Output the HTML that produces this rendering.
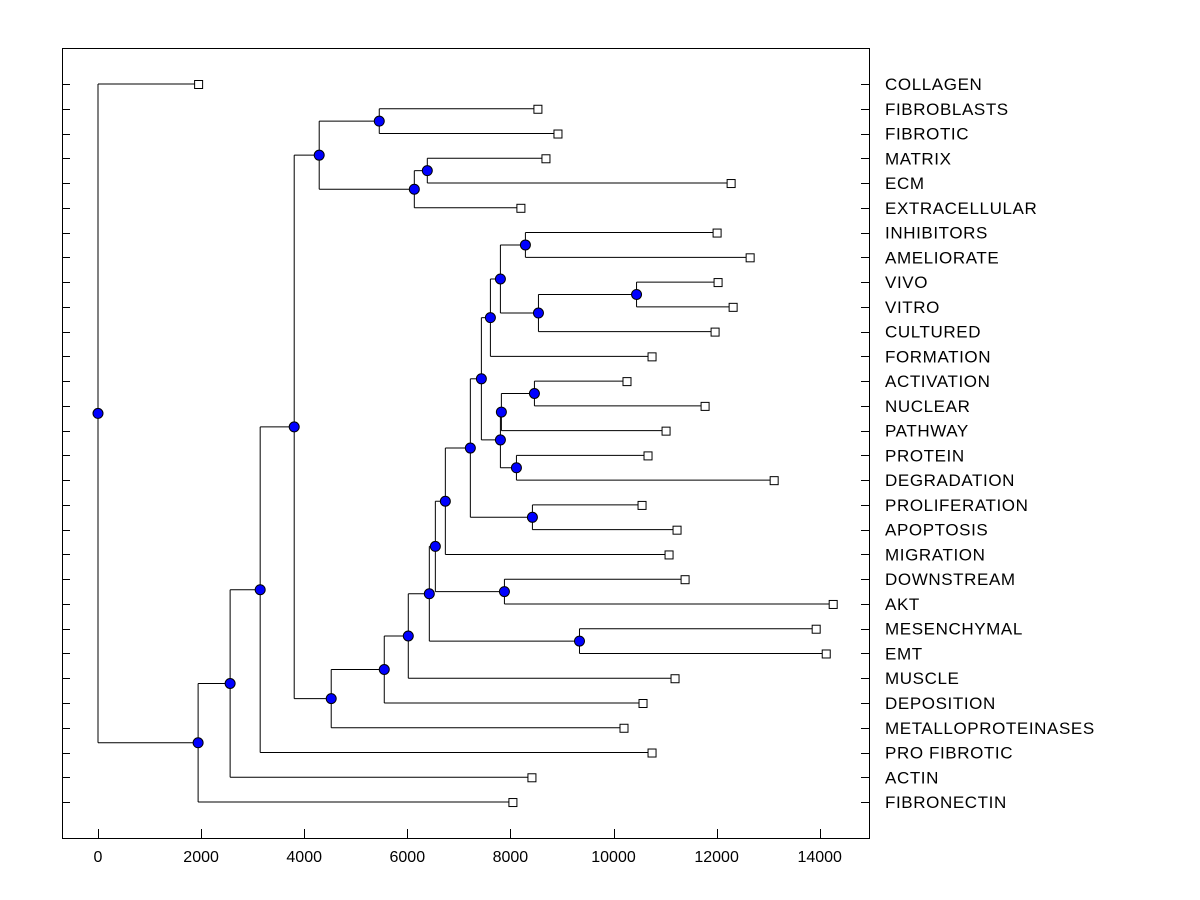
<!DOCTYPE html>
<html><head><meta charset="utf-8"><style>
html,body{margin:0;padding:0;background:#fff;}
svg{display:block;font-family:"Liberation Sans",Arial,sans-serif;}
</style></head><body>
<svg id="chart" width="1200" height="900" viewBox="0 0 1200 900">
<rect x="62.5" y="48.5" width="807" height="790" fill="none" stroke="#000" stroke-width="1"/>
<g id="axes"></g><g id="links"></g><g id="marks"></g>
</svg>
<script>
const leafLabels = ["COLLAGEN","FIBROBLASTS","FIBROTIC","MATRIX","ECM","EXTRACELLULAR","INHIBITORS","AMELIORATE","VIVO","VITRO","CULTURED","FORMATION","ACTIVATION","NUCLEAR","PATHWAY","PROTEIN","DEGRADATION","PROLIFERATION","APOPTOSIS","MIGRATION","DOWNSTREAM","AKT","MESENCHYMAL","EMT","MUSCLE","DEPOSITION","METALLOPROTEINASES","PRO FIBROTIC","ACTIN","FIBRONECTIN"];
const leafValues = [1942,8524,8913,8680,12272,8194,12000,12641,12019,12311,11961,10738,10252,11767,11010,10660,13107,10544,11223,11068,11379,14252,13922,14117,11184,10563,10194,10738,8408,8039];
const nodeChildren = [
 ["L1","L2"],["L3","L4"],["N1","L5"],["N0","N2"],
 ["L6","L7"],["L8","L9"],["N5","L10"],["N4","N6"],["N7","L11"],
 ["L12","L13"],["N9","L14"],["L15","L16"],["N10","N11"],["N8","N12"],
 ["L17","L18"],["N13","N14"],["N15","L19"],["L20","L21"],["N16","N17"],
 ["L22","L23"],["N18","N19"],["N20","L24"],["N21","L25"],["N22","L26"],
 ["N3","N23"],["N24","L27"],["N25","L28"],["N26","L29"],["L0","N27"]
];
const nodeValues = [5456,6388,6136,4291,8291,10447,8544,7806,7612,8466,7825,8117,7806,7437,8427,7223,6738,7884,6544,9340,6427,6019,5553,4524,3806,3146,2563,1942,0];
const xTicks = [0,2000,4000,6000,8000,10000,12000,14000];

const NS="http://www.w3.org/2000/svg";
const X=v=>98+v*0.05155;
const Y=i=>84+i*24.76;
function el(t,a,p){const e=document.createElementNS(NS,t);for(const k in a)e.setAttribute(k,a[k]);p.appendChild(e);return e;}
const axes=document.getElementById('axes'),links=document.getElementById('links'),marks=document.getElementById('marks');
xTicks.forEach(t=>{
 const x=Math.round(X(t))+0.5;
 const l=el('line',{x1:x,x2:x,y1:829,y2:838,stroke:'#000'},axes);
 
 
 const tx=el('text',{x:X(t),y:862,'text-anchor':'middle','font-size':'16'},axes);tx.textContent=t;
 
 
});
leafLabels.forEach((lab,i)=>{
 const y=Math.round(Y(i))+0.5;
 const a=el('line',{x1:62,x2:70,y1:y,y2:y,stroke:'#000'},axes);
 
 
 const b=el('line',{x1:861,x2:869,y1:y,y2:y,stroke:'#000'},axes);
 
 
 const t=el('text',{x:885,y:Y(i)+6,'font-size':'17','letter-spacing':'0.6'},axes);t.textContent=lab;
 
 
});
const pos={};
function get(id){
 if(pos[id])return pos[id];
 const k=+id.slice(1);
 if(id[0]==='L'){pos[id]={y:Y(k),x:X(leafValues[k]),leaf:true};return pos[id];}
 const [a,b]=nodeChildren[k];const pa=get(a),pb=get(b);
 const p={x:X(nodeValues[k]),y:(pa.y+pb.y)/2};pos[id]=p;
 [pa,pb].forEach(c=>{
  const pl=el('polyline',{points:`${p.x},${c.y} ${c.x},${c.y}`,fill:'none',stroke:'#000','stroke-width':1},links);
  
  
 });
 const v=el('line',{x1:p.x,x2:p.x,y1:pa.y,y2:pb.y,stroke:'#000'},links);
 
 
 return p;
}
get('N'+(nodeChildren.length-1));
for(let i=0;i<leafLabels.length;i++){
 const p=get('L'+i);
 const r=el('rect',{x:p.x-3.5,y:p.y-3.5,width:8,height:8,fill:'#fff',stroke:'#000'},marks);
 
 
}
for(let k=0;k<nodeChildren.length;k++){
 const p=get('N'+k);
 const c=el('circle',{cx:p.x,cy:p.y,r:5,fill:'#0000ff',stroke:'#000'},marks);
 
 
}
</script>
</body></html>
